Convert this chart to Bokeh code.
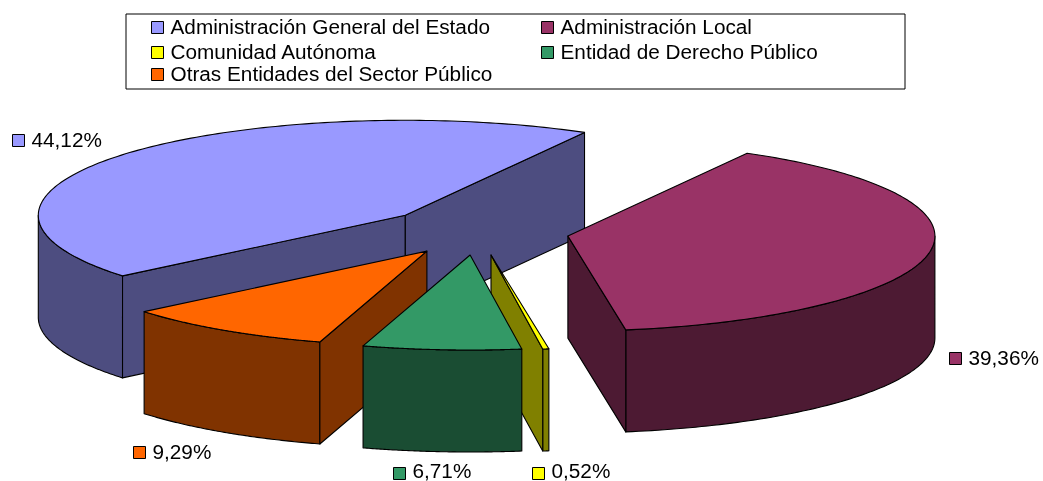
import numpy as np
from bokeh.embed import file_html
from bokeh.models import Range1d
from bokeh.plotting import figure
from bokeh.resources import INLINE

# ---- data ----
categories = ["Administración General del Estado", "Administración Local", "Comunidad Autónoma",
              "Entidad de Derecho Público", "Otras Entidades del Sector Público"]
shares = [44.12, 39.36, 0.52, 6.71, 9.29]
top_colors = ["#9999FF", "#993366", "#FFFF00", "#339966", "#FF6600"]
side_colors = ["#4D4D80", "#4D1A33", "#808000", "#1A4D33", "#803300"]

# ---- layout ----
W, H = 1043, 481
RX, RY, DEPTH = 367.0, 95.0, 102.0
START = 219.6                       # first slice starts here, slices run clockwise
boundary_nudge = [0, 0, 0, 0.9, 0, 0]   # degrees, wedge boundaries as the original renderer placed them
apex = [(404.8, 214.8), (567.4, 235.6), (490.5, 254.5), (469.6, 254.5), (426.4, 250.6)]
label_pos = [(12, 140), (949, 358), (532, 473), (393, 473), (133, 452)]
label_dy = [-1, -1, -3.5, -3.5, -1]
legend_pos = [(151, 27), (541, 27), (151, 52), (541, 52), (151, 74)]
FONT = "Liberation Sans"
FONT_SIZE = "20.75px"

p = figure(width=W, height=H, x_range=Range1d(0, W), y_range=Range1d(H, 0),
           output_backend="svg", toolbar_location=None, min_border=0,
           outline_line_color=None, background_fill_color="white")
p.styles = {"position": "fixed", "left": "0px", "top": "0px"}
p.xaxis.visible = False
p.yaxis.visible = False
p.grid.visible = False


def arc(a, b, n=80):
    return np.radians(np.linspace(a, b, n))


def rim(c, t, dz=0.0):
    return c[0] + RX * np.cos(t), c[1] - RY * np.sin(t) + dz


def poly(x, y, fill):
    p.patch(list(x), list(y), fill_color=fill, line_color="black", line_width=1.1, line_join="round")


edges = START - np.cumsum([0] + [s * 3.6 for s in shares]) + np.array(boundary_nudge)


def draw_slice(i):
    a, b = edges[i], edges[i + 1]       # a > b, clockwise from a to b
    c = apex[i]
    # outer wall: the part of the rim on the front half
    lo, hi = b, a
    for k in range(-1, 2):
        l, h = max(lo, -180 + 360 * k), min(hi, 360 * k)
        if h > l:
            t = arc(l, h)
            x, y = rim(c, t)
            xb, yb = rim(c, t, DEPTH)
            poly(np.r_[x, xb[::-1]], np.r_[y, yb[::-1]], side_colors[i])
    # cut faces turned to the viewer
    for ang, normal in ((a, a + 90), (b, b - 90)):
        if np.sin(np.radians(normal)) < 0:
            x, y = rim(c, np.radians(ang))
            poly([c[0], x, x, c[0]], [c[1], y, y + DEPTH, c[1] + DEPTH], side_colors[i])
    # top
    t = arc(a, b, 160)
    x, y = rim(c, t)
    poly(np.r_[c[0], x], np.r_[c[1], y], top_colors[i])


for i in (0, 1, 2, 4, 3):
    draw_slice(i)

SW = 12


def swatch(x, y, color):
    p.quad(left=[x], right=[x + SW], top=[y - SW / 2], bottom=[y + SW / 2],
           fill_color=color, line_color="black", line_width=1)


def label(x, y, s):
    p.text([x], [y], text=[s], text_font_size=FONT_SIZE, text_font={"value": FONT},
           text_baseline="middle", text_align="left", text_color="black")


# data labels
for i, s in enumerate(shares):
    x, y = label_pos[i]
    swatch(x, y, top_colors[i])
    label(x + 19, y + label_dy[i], f"{s:.2f}%".replace(".", ","))

# legend box and entries
p.quad(left=[125.5], right=[904.5], top=[13.5], bottom=[88.5], fill_color="white",
       line_color="black", line_width=1)
for i, name in enumerate(categories):
    x, y = legend_pos[i]
    swatch(x, y, top_colors[i])
    label(x + 19, y - 1, name)

open("out.html", "w").write(file_html(p, INLINE))
